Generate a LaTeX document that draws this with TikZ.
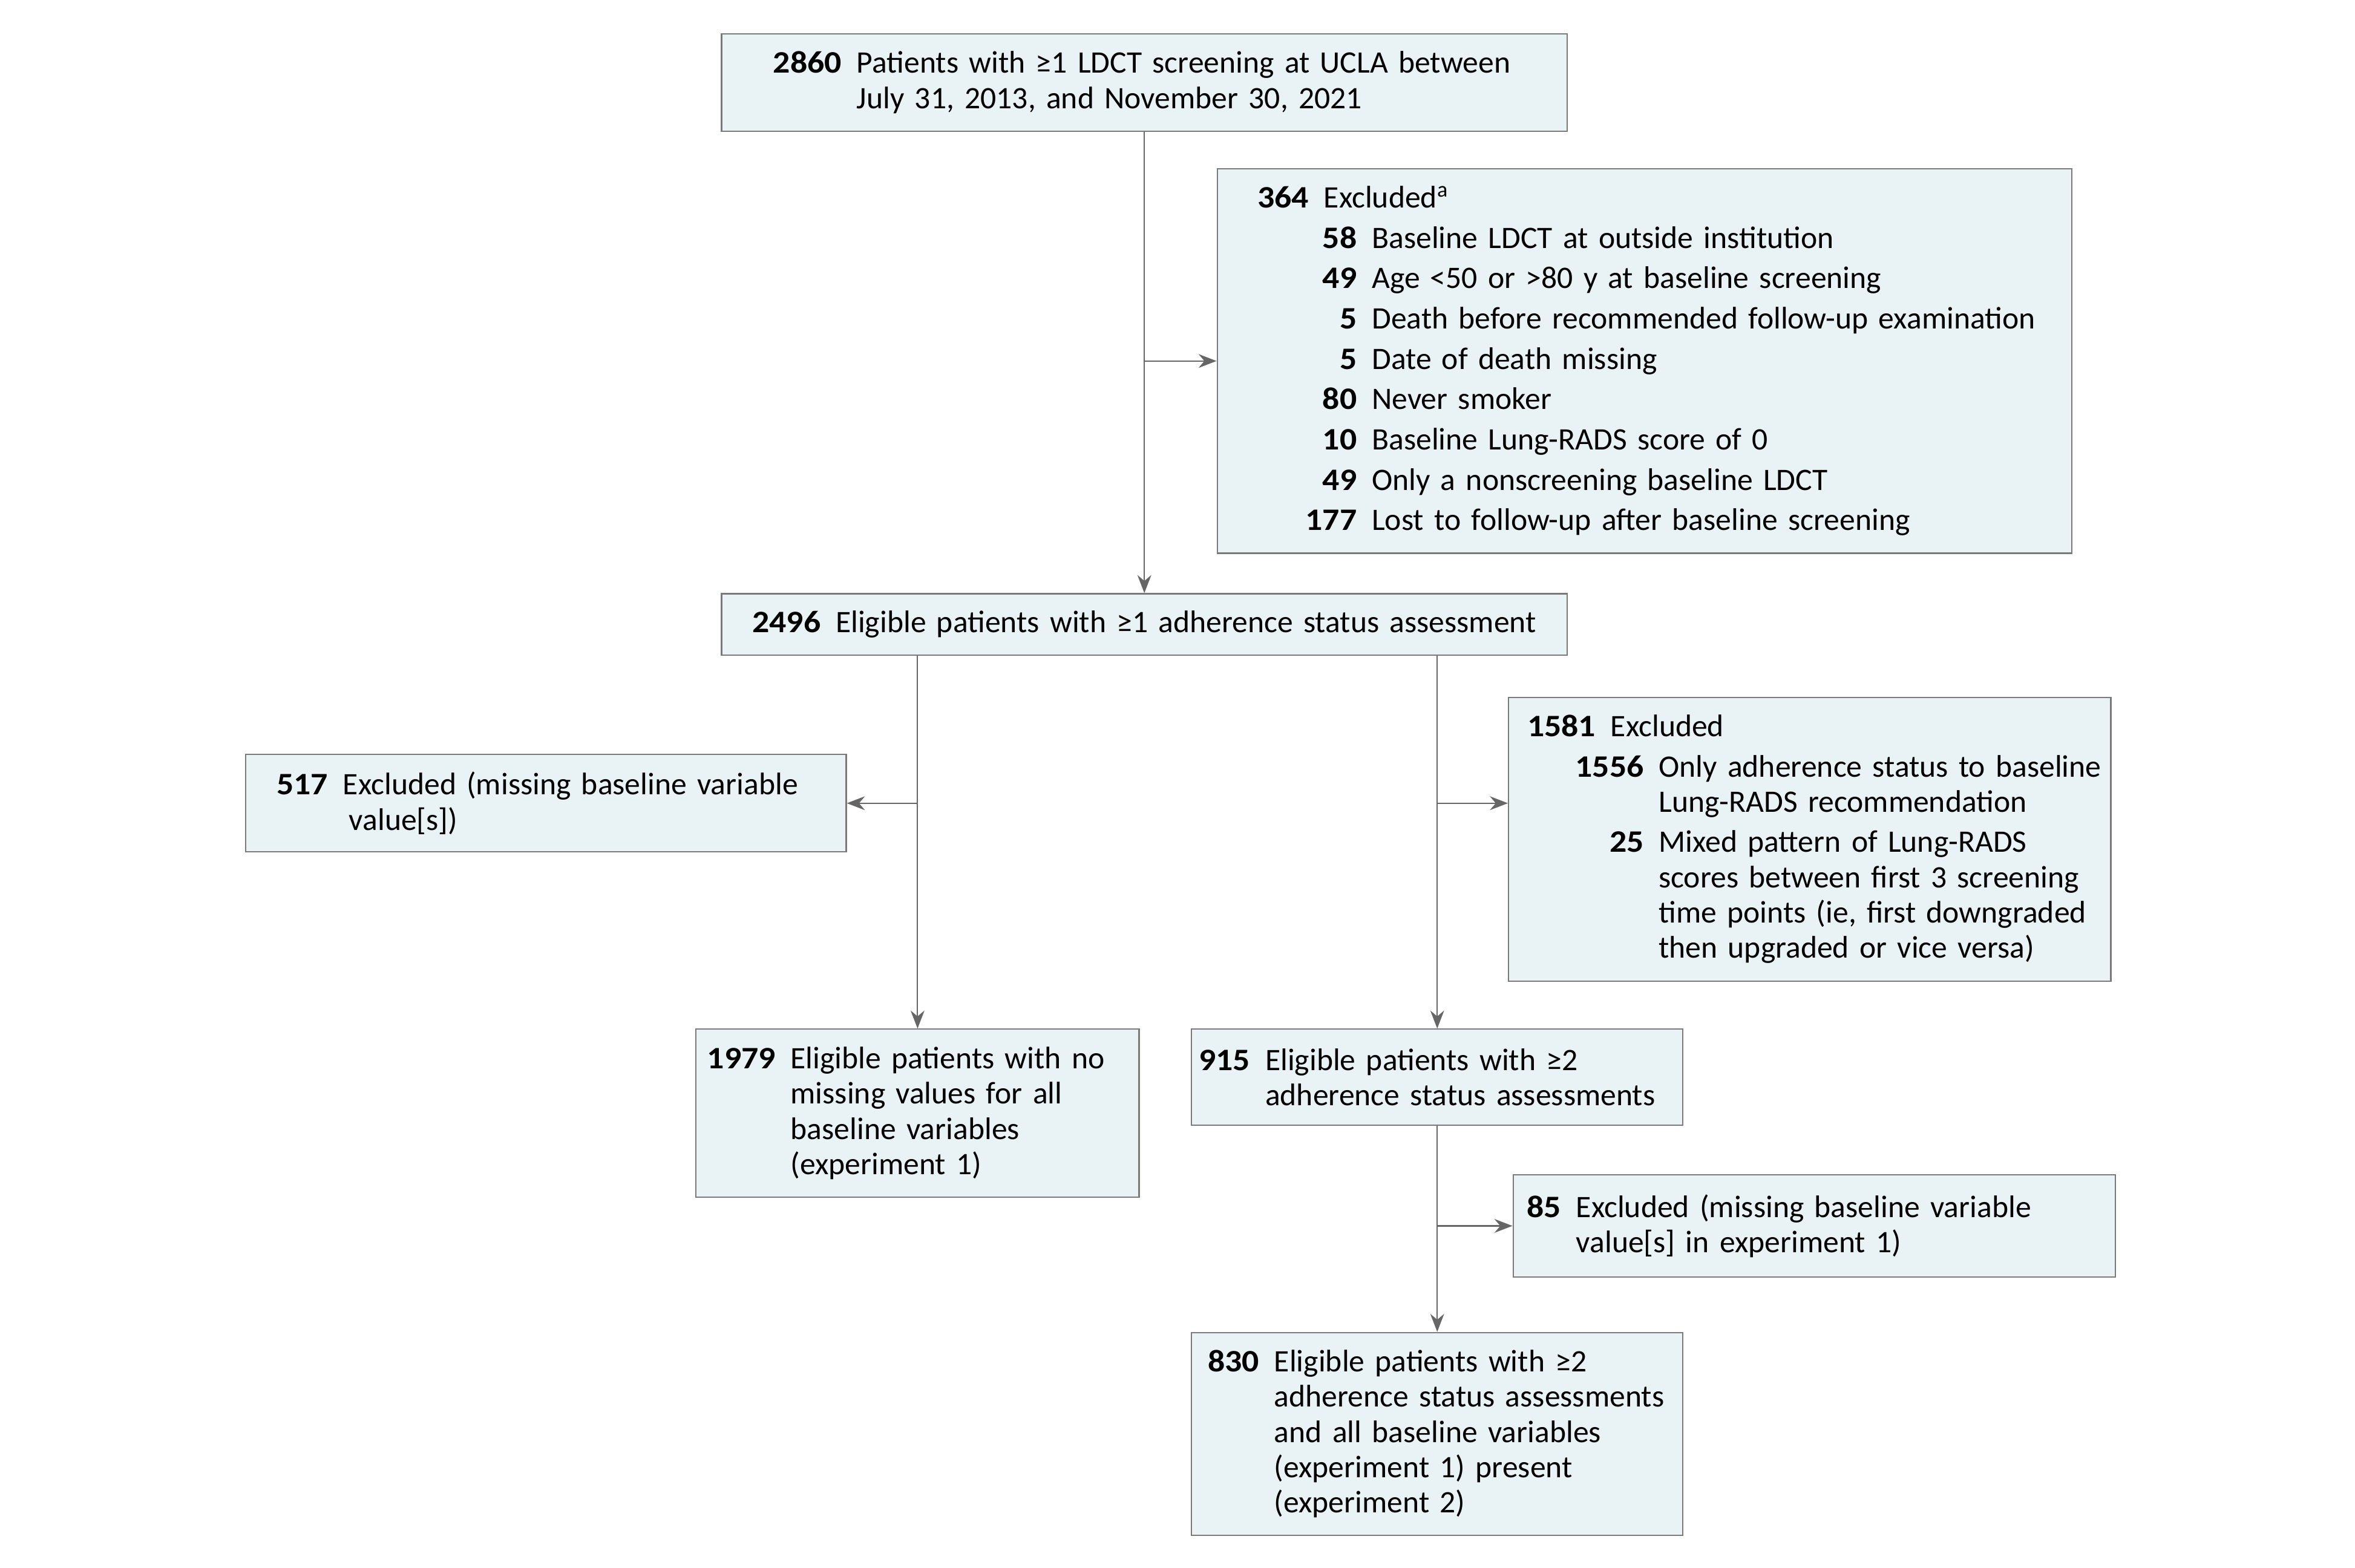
\documentclass[tikz,border=0pt]{standalone}
\usepackage{fontspec}
\setmainfont{Carlito}[BoldFeatures={FakeStretch=1.08}]
\usepackage{xcolor}
\definecolor{boxfill}{HTML}{E9F2F4}
\definecolor{boxedge}{HTML}{7A7A7A}
\definecolor{wire}{HTML}{666666}
\usepackage{tikz}
\usetikzlibrary{arrows.meta,positioning,calc}
\tikzset{
  >={Stealth[length=3mm,width=2.3mm]},
  box/.style ={draw=boxedge,fill=boxfill,line width=0.6pt,anchor=north west,
               align=left,inner xsep=0pt,inner ysep=0pt,
               font=\fontsize{14.8}{16.7}\selectfont},
  flow/.style={->,draw=wire,line width=0.6pt},
}
% number column, right aligned, then the text
\newcommand{\nrow}[3]{\makebox[#1][r]{\textbf{#2}}\hspace{0.25cm}#3}

\begin{document}
\begin{tikzpicture}
\useasboundingbox (0,0) rectangle (39.2,-26.1);
% ---- top of the flow
\node[box,text width=14.075cm,minimum height=1.625cm] (n2860) at (12.0,-0.55)
 {\nrow{2.0cm}{2860}{Patients with ≥1 LDCT screening at UCLA between}\\
  \nrow{2.0cm}{}{July 31, 2013, and November 30, 2021}};
\node[box,text width=14.225cm,minimum height=6.4cm] (n364) at (20.25,-2.8)
 {\nrow{1.525cm}{364}{Excluded\textsuperscript{a}}\\[2.4pt]
  \nrow{2.325cm}{58}{Baseline LDCT at outside institution}\\[2.4pt]
  \nrow{2.325cm}{49}{Age <50 or >80 y at baseline screening}\\[2.4pt]
  \nrow{2.325cm}{5}{Death before recommended follow-up examination}\\[2.4pt]
  \nrow{2.325cm}{5}{Date of death missing}\\[2.4pt]
  \nrow{2.325cm}{80}{Never smoker}\\[2.4pt]
  \nrow{2.325cm}{10}{Baseline Lung-RADS score of 0}\\[2.4pt]
  \nrow{2.325cm}{49}{Only a nonscreening baseline LDCT}\\[2.4pt]
  \nrow{2.325cm}{177}{Lost to follow-up after baseline screening}};
\node[box,text width=14.075cm,minimum height=1.025cm] (n2496) at (12.0,-9.875)
 {\nrow{1.65cm}{2496}{Eligible patients with ≥1 adherence status assessment}};

% ---- left branch
\node[box,text width=10.0cm,minimum height=1.625cm] (n517) at (4.075,-12.55)
 {\nrow{1.375cm}{517}{Excluded (missing baseline variable}\\
  \nrow{1.375cm}{}{\hspace{0.1cm}value[s])}};
\node[box,text width=7.375cm,minimum height=2.8cm] (n1979) at (11.575,-17.125)
 {\nrow{1.325cm}{1979}{Eligible patients with no}\\
  \nrow{1.325cm}{}{missing values for all}\\
  \nrow{1.325cm}{}{baseline variables}\\
  \nrow{1.325cm}{}{(experiment 1)}};

% ---- right branch
\node[box,text width=10.025cm,minimum height=4.725cm] (n1581) at (25.1,-11.6)
 {\nrow{1.45cm}{1581}{Excluded}\\[2.3pt]
  \nrow{2.25cm}{1556}{Only adherence status to baseline}\\
  \nrow{2.25cm}{}{Lung-RADS recommendation}\\[2.3pt]
  \nrow{2.25cm}{25}{Mixed pattern of Lung-RADS}\\
  \nrow{2.25cm}{}{scores between first 3 screening}\\
  \nrow{2.25cm}{}{time points (ie, first downgraded}\\
  \nrow{2.25cm}{}{then upgraded or vice versa)}};
\node[box,text width=8.175cm,minimum height=1.6cm] (n915) at (19.825,-17.125)
 {\nrow{0.975cm}{915}{Eligible patients with ≥2}\\
  \nrow{0.975cm}{}{adherence status assessments}};
\node[box,text width=10.025cm,minimum height=1.7cm] (n85) at (25.175,-19.55)
 {\nrow{0.8cm}{85}{Excluded (missing baseline variable}\\
  \nrow{0.8cm}{}{value[s] in experiment 1)}};
\node[box,text width=8.175cm,minimum height=3.375cm] (n830) at (19.825,-22.175)
 {\nrow{1.125cm}{830}{Eligible patients with ≥2}\\
  \nrow{1.125cm}{}{adherence status assessments}\\
  \nrow{1.125cm}{}{and all baseline variables}\\
  \nrow{1.125cm}{}{(experiment 1) present}\\
  \nrow{1.125cm}{}{(experiment 2)}};

% ---- connectors
\foreach \a/\b in {n2860/n2496, n915/n830} \draw[flow] (\a) -- (\b);
\draw[flow] (n2860.south |- n364.west) -- (n364.west);
\draw[flow] (n2496.south -| n1979.north) -- (n1979.north);
\draw[flow] (n1979.north |- n517.east) -- (n517.east);
\draw[flow] (n2496.south -| n915.north) -- (n915.north);
\draw[flow] (n915.north |- n517.east) -- (n517.east -| n1581.west);
\draw[flow] (n915.south |- n85.west) -- (n85.west);
\end{tikzpicture}
\end{document}
